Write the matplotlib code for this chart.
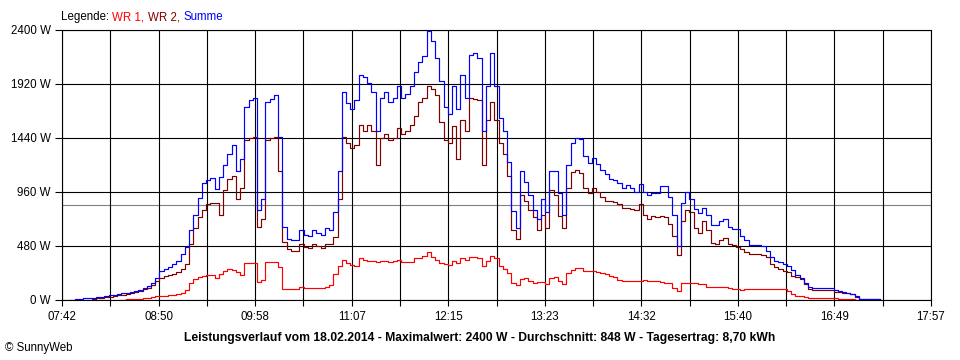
import numpy as np
import pandas as pd
import matplotlib
matplotlib.use("Agg")
import matplotlib.pyplot as plt

plt.rcParams['font.family'] = ['Liberation Sans', 'DejaVu Sans']

# sampled every 3 minutes from 07:48 (values in W), None = no data yet
start_time = "2014-02-18 07:48"
step = "3min"

summe = [3, 8, 12, 15, 18, 20, 25, 30, 35, 41, 45, 50,
         58, 65, 72, 80, 90, 110, 125, 150, 195, 260, 280, 295,
         320, 345, 410, 475, 620, 760, 910, 1040, 1070, 1085, 990, 1090,
         1200, 1300, 1380, 1150, 1250, 1720, 1780, 1800, 800, 900, 1760, 1790,
         1820, 1450, 650, 540, 530, 530, 620, 580, 570, 620, 600, 580,
         640, 620, 780, 1150, 1850, 1750, 1700, 1780, 2000, 1980, 1930, 1850,
         1500, 1800, 1850, 1760, 1800, 1900, 1800, 1830, 1900, 2030, 2120, 2170,
         2390, 2300, 2150, 1950, 1720, 1650, 1900, 1700, 2000, 1800, 2180, 2200,
         2150, 1500, 1900, 2200, 1900, 1620, 1500, 1230, 790, 640, 1150, 1050,
         930, 800, 720, 900, 780, 1150, 1150, 950, 760, 1200, 1400, 1440,
         1430, 1280, 1220, 1260, 1210, 1160, 1120, 1080, 1070, 1040, 1000, 1020,
         1000, 960, 1030, 960, 930, 950, 950, 1010, 1015, 920, 760, 480,
         860, 960, 900, 810, 770, 815, 760, 670, 665, 700, 720, 650,
         630, 630, 570, 530, 490, 485, 485, 480, 440, 380, 345, 335,
         320, 305, 265, 225, 195, 150, 120, 110, 105, 104, 104, 104,
         90, 78, 68, 65, 55, 35, 12, 6, 5, 5, 5, 5]

wr2 = [None, None, None, None, None, 8, 15, 20, 25, 30, 35, 42,
       48, 55, 62, 70, 80, 95, 108, 135, 165, 195, 210, 222,
       232, 250, 275, 320, 500, 640, 740, 800, 850, 860, 860, 760,
       980, 1080, 1100, 900, 1000, 1420, 1440, 1450, 650, 720, 1420, 1440,
       1450, 1150, 520, 450, 440, 440, 500, 470, 460, 500, 480, 460,
       500, 500, 560, 900, 1450, 1400, 1350, 1380, 1560, 1500, 1560, 1500,
       1200, 1440, 1480, 1420, 1440, 1530, 1480, 1500, 1560, 1640, 1760, 1800,
       1900, 1880, 1820, 1580, 1420, 1400, 1550, 1250, 1600, 1500, 1800, 1790,
       1780, 1200, 1600, 1760, 1600, 1400, 1300, 1100, 620, 540, 930, 880,
       800, 740, 620, 760, 640, 980, 930, 750, 640, 1000, 1140, 1160,
       1130, 1000, 950, 1000, 960, 920, 880, 880, 870, 850, 820, 820,
       810, 800, 850, 760, 720, 750, 740, 750, 740, 680, 570, 400,
       700, 800, 780, 640, 600, 700, 620, 510, 500, 530, 550, 500,
       490, 470, 450, 430, 410, 410, 405, 400, 380, 320, 290, 275,
       260, 250, 215, 205, 185, 145, 100, 90, 90, 89, 89, 89,
       75, 70, 60, 58, 55, 30, 10, 6, 5, 5, 5, 5]

wr1 = [None, None, None, None, None, None, None, None, None, None, None, None,
       3, 5, 8, 10, 12, 15, 22, 30, 32, 35, 38, 42,
       48, 55, 60, 90, 150, 185, 205, 215, 225, 222, 200, 235,
       255, 275, 265, 250, 225, 326, 326, 330, 160, 175, 335, 335,
       335, 290, 100, 95, 95, 95, 120, 110, 110, 105, 110, 110,
       115, 130, 230, 300, 356, 330, 310, 300, 370, 356, 350, 350,
       340, 350, 345, 340, 350, 355, 335, 335, 340, 370, 375, 390,
       430, 385, 360, 330, 320, 310, 350, 330, 370, 360, 380, 380,
       370, 300, 350, 390, 370, 300, 280, 240, 150, 130, 190, 195,
       165, 150, 160, 160, 140, 200, 205, 170, 140, 240, 270, 285,
       285, 255, 255, 255, 250, 240, 230, 215, 205, 180, 170, 170,
       170, 165, 170, 175, 165, 165, 165, 160, 155, 150, 110, 80,
       150, 150, 150, 150, 145, 145, 120, 115, 115, 115, 115, 110,
       95, 95, 90, 95, 95, 95, 100, 100, 100, 100, 100, 100,
       95, 80, 50, 40, 35, 25, 22, 20, 20, 20, 20, 20,
       15, 12, 10, 8, 6, 3, 0, 0, 0, 0, 0, 0]

y_ticks = [0, 480, 960, 1440, 1920, 2400]
x_labels = ["07:42", "08:50", "09:58", "11:07", "12:15",
            "13:23", "14:32", "15:40", "16:49", "17:57"]
average_w = 848

legend_parts = [("Legende: ", "black"), ("WR 1, ", "#ff0000"),
                ("WR 2, ", "#800000"), ("Summe", "#0000ff")]
title = ("Leistungsverlauf vom 18.02.2014 - Maximalwert: 2400 W - "
         "Durchschnitt: 848 W - Tagesertrag: 8,70 kWh")


def to_min(hhmm):
    h, m = hhmm.split(":")
    return int(h) * 60 + int(m)


times = pd.date_range(start_time, periods=len(summe), freq=step)
t = np.asarray(times.hour * 60 + times.minute, dtype=float)
s_sum = np.array(summe, dtype=float)
s_wr2 = np.array([np.nan if v is None else v for v in wr2], dtype=float)
s_wr1 = np.array([np.nan if v is None else v for v in wr1], dtype=float)

x0, x1 = to_min(x_labels[0]), to_min(x_labels[-1])

fig = plt.figure(figsize=(9.6, 3.6), dpi=100)
ax = fig.add_axes([62 / 960, 60 / 360, 869 / 960, 270 / 360])

ax.axhline(average_w, color="#808080", lw=0.8, zorder=1)
line_kw = dict(lw=0.85, drawstyle="steps-post", zorder=3)
ax.plot(t, s_wr1, color="#ff0000", **line_kw)
ax.plot(t, s_wr2, color="#800000", **line_kw)
ax.plot(t, s_sum, color="#0000ff", **line_kw)

ax.set_xlim(x0, x1)
ax.set_ylim(y_ticks[0], y_ticks[-1])

xt = np.linspace(x0, x1, 2 * len(x_labels) - 1)
ax.set_xticks(xt)
lbls = []
for lab in x_labels:
    lbls += [lab, ""]
ax.set_xticklabels(lbls[:-1])
ax.set_yticks(y_ticks)
ax.set_yticklabels([f"{v} W" for v in y_ticks])

ax.tick_params(axis="x", length=4, width=0.8, pad=4, labelsize=8.3)
ax.tick_params(axis="y", length=5, width=0.8, pad=3, labelsize=8.3)
ax.grid(True, color="black", lw=0.8, zorder=0)
for sp in ax.spines.values():
    sp.set_linewidth(0.8)
    sp.set_color("black")

fig.text(0.5, 1 - 338 / 360, title, ha="center", va="center",
         fontsize=8.7, fontweight="bold")
fig.text(5 / 960, 1 - 348 / 360, "\u00a9 SunnyWeb", ha="left", va="center",
         fontsize=8.3)

fig.canvas.draw()
renderer = fig.canvas.get_renderer()
xpos = 61
for txt, col in legend_parts:
    tt = fig.text(xpos / 960, 1 - 17 / 360, txt, color=col, fontsize=8.3,
                  ha="left", va="center")
    xpos += tt.get_window_extent(renderer).width

fig.savefig("out.png", dpi=100)
